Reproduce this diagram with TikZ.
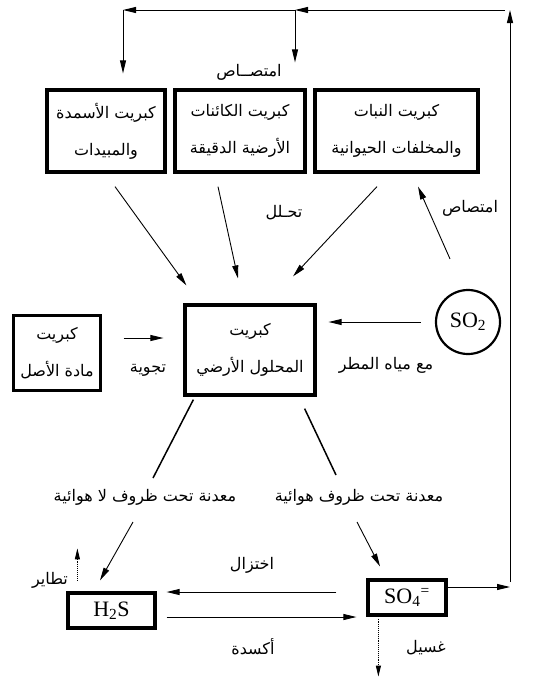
\documentclass[tikz,border=0pt]{standalone}
\usepackage{fontspec}
\setmainfont{Liberation Serif}
\newfontfamily\arabicfont[Script=Arabic]{DejaVu Sans}
\TeXXeTstate=1
\usetikzlibrary{arrows.meta,calc}
\newcommand{\artext}[1]{{\arabicfont\beginR #1\endR}}

\begin{document}
\begin{tikzpicture}[
        x=1pt,y=-1pt,
        font=\fontsize{16}{37}\selectfont,
        box/.style={draw,line width=3.2pt,inner sep=0pt,align=center},
        chem/.style={font=\fontsize{22}{26}\selectfont},
        lbl/.style={inner sep=0pt},
        flow/.style={line width=0.9pt,-{Triangle[length=13pt,width=6pt]}},
        tie/.style={line width=1.5pt},
        leak/.style={line width=0.9pt,densely dotted,-{Triangle[length=11pt,width=5pt]}}
    ]
    \useasboundingbox (0,0) rectangle (550,678);

    \node[box,minimum width=118pt,minimum height=82pt] (fert) at (106,131)
        {\artext{كبريت الأسمدة}\\\artext{والمبيدات}};
    \node[box,minimum width=130pt,minimum height=82pt] (microbe) at (240,131)
        {\artext{كبريت الكائنات}\\\artext{الأرضية الدقيقة}};
    \node[box,minimum width=163pt,minimum height=82pt] (plant) at (396.5,131)
        {\artext{كبريت النبات}\\\artext{والمخلفات الحيوانية}};
    \node[box,minimum width=130pt,minimum height=90pt] (soil) at (250,350)
        {\artext{كبريت}\\\artext{المحلول الأرضي}};
    \node[box,minimum width=87pt,minimum height=75pt] (parent) at (57,353)
        {\artext{كبريت}\\\artext{مادة الأصل}};
    \node[draw,circle,line width=2.2pt,minimum size=64pt,inner sep=0pt,chem] (so2) at (468,322)
        {SO\textsubscript{2}};
    \node[box,minimum width=87pt,minimum height=35pt,chem] (h2s) at (111.5,610.5)
        {H\textsubscript{2}S};
    \node[box,minimum width=78pt,minimum height=35pt,chem] (so4) at (407,597.5)
        {SO\textsubscript{4}\textsuperscript{=}};

    \node[lbl] (absorbtop) at (249,72) {\artext{امتصــاص}};
    \node[lbl] (decomp) at (284,213) {\artext{تحـلل}};
    \node[lbl] (absorbso2) at (470,208) {\artext{امتصاص}};
    \node[lbl] (rain) at (386,365) {\artext{مع مياه المطر}};
    \node[lbl] (weather) at (148,370) {\artext{تجوية}};
    \node[lbl] (anaer) at (145,497) {\artext{معدنة تحت ظروف لا هوائية}};
    \node[lbl] (aer) at (359,497) {\artext{معدنة تحت ظروف هوائية}};
    \node[lbl] (reduce) at (252,565) {\artext{اختزال}};
    \node[lbl] (oxid) at (253,647) {\artext{أكسدة}};
    \node[lbl] (volat) at (50,580) {\artext{تطاير}};
    \node[lbl] (leach) at (426,648) {\artext{غسيل}};

    \draw[flow] ($(fert.south)+(9,13)$) -- ($(soil.north west)+(3,-18)$);
    \draw[flow] ($(microbe.south)+(-22,13)$) -- ($(soil.north)+(-12,-25)$);
    \draw[flow] ($(plant.south)+(-19.5,13)$) -- ($(soil.north)+(43,-27)$);
    \draw[flow] ($(so2.north)+(-18,-30)$) -- ($(plant.south)+(21.5,13)$);
    \draw[flow] ($(so2.west)+(-14,0)$) -- ($(soil.east)+(12,-28)$);
    \draw[flow] ($(parent.east)+(21.5,-15)$) -- ($(soil.west)+(-20,-12)$);

    \draw[tie] ($(soil.south west)+(10,3)$) -- ($(anaer.center)+(8,-19)$);
    \draw[tie] ($(soil.south east)+(-12,12)$) -- ($(aer.center)+(-23,-22)$);
    \draw[flow] ($(anaer.center)+(-12,25)$) -- ($(h2s.north)+(-11.5,-11)$);
    \draw[flow] ($(aer.center)+(-2,25)$) -- ($(so4.north)+(-27,-12)$);

    \draw[flow] ($(so4.west)+(-30,-5.5)$) -- ($(h2s.east)+(10,-18.5)$);
    \draw[flow] ($(h2s.east)+(10,6.5)$) -- ($(so4.west)+(-10,19.5)$);
    \draw[leak] ($(h2s.north west)+(11,-11)$) -- ($(h2s.north west)+(11,-43)$);
    \draw[leak] ($(so4.south west)+(12,2)$) -- ($(so4.south west)+(12,60)$);

    % return of sulphate to the top boxes
    \coordinate (se) at (510,587);
    \coordinate (ne) at (510,10);
    \coordinate (nm) at (295,10);
    \coordinate (nw) at (123,10);
    \draw[flow] ($(so4.east)+(0,-10.5)$) -- (se);
    \draw[flow] ($(se)+(0,-5)$) -- (ne);
    \draw[flow] ($(ne)+(-5,0)$) -- (nm);
    \draw[flow] (nm) -- (nw);
    \draw[flow] (nw) -- ($(fert.north)+(17,-15)$);
    \draw[flow] (nm) -- ($(microbe.north)+(55,-26)$);
\end{tikzpicture}
\end{document}
